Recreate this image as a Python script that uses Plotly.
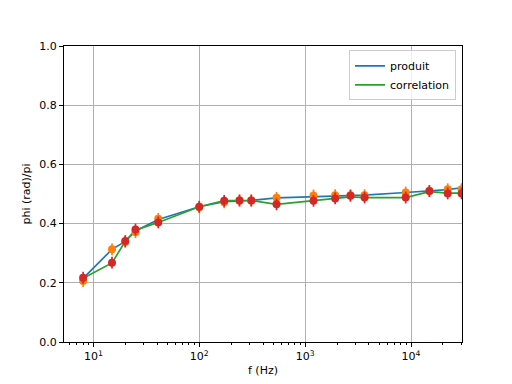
import plotly.graph_objects as go
import math

freq = [8, 15, 20, 25, 41, 100, 172, 240, 310, 537, 1200, 1920, 2680, 3640, 8900, 14900, 22200, 30000]
produit = [0.215, 0.313, 0.340, 0.375, 0.414, 0.457, 0.474, 0.477, 0.478, 0.487, 0.491, 0.493, 0.495, 0.496, 0.505, 0.510, 0.515, 0.521]
correlation = [0.215, 0.267, 0.340, 0.378, 0.404, 0.457, 0.478, 0.478, 0.478, 0.465, 0.477, 0.484, 0.490, 0.488, 0.488, 0.508, 0.503, 0.503]
mes_produit = [0.206, 0.313, 0.338, 0.371, 0.416, 0.455, 0.472, 0.478, 0.478, 0.487, 0.495, 0.496, 0.496, 0.496, 0.505, 0.510, 0.516, 0.516]
mes_correlation = [0.217, 0.268, 0.341, 0.380, 0.404, 0.457, 0.477, 0.478, 0.478, 0.465, 0.477, 0.485, 0.494, 0.488, 0.488, 0.510, 0.502, 0.502]
err_produit = [0.02] * len(freq)
err_correlation = [0.02] * len(freq)
xtick_vals = [10, 100, 1000, 10000]
xtick_text = ["10<sup>1</sup>", "10<sup>2</sup>", "10<sup>3</sup>", "10<sup>4</sup>"]

BLUE, GREEN, ORANGE, RED = "#1f77b4", "#2ca02c", "#ff7f0e", "#d62728"

fig = go.Figure()
fig.add_trace(go.Scatter(x=freq, y=produit, mode="lines", name="produit",
                         line=dict(color=BLUE, width=1.7)))
fig.add_trace(go.Scatter(x=freq, y=correlation, mode="lines", name="correlation",
                         line=dict(color=GREEN, width=1.7)))
fig.add_trace(go.Scatter(x=freq, y=mes_produit, mode="markers", showlegend=False,
                         marker=dict(color=ORANGE, size=8),
                         error_y=dict(type="data", array=err_produit, color=ORANGE, thickness=1.7, width=0)))
fig.add_trace(go.Scatter(x=freq, y=mes_correlation, mode="markers", showlegend=False,
                         marker=dict(color=RED, size=8),
                         error_y=dict(type="data", array=err_correlation, color=RED, thickness=1.7, width=0)))

axis_common = dict(showline=True, linecolor="black", linewidth=1, mirror=True,
                   ticks="outside", ticklen=4, tickcolor="black", automargin=False,
                   showgrid=True, gridcolor="#b0b0b0", gridwidth=0.8, zeroline=False,
                   tickfont=dict(size=11, color="black"))

fig.update_layout(
    width=512, height=384,
    margin=dict(l=64, r=50, t=46, b=42),
    paper_bgcolor="white", plot_bgcolor="white",
    font=dict(family="DejaVu Sans", size=11, color="black"),
    xaxis=dict(type="log", range=[math.log10(5.28), math.log10(30300)],
               tickvals=xtick_vals, ticktext=xtick_text,
               minor=dict(ticks="outside", ticklen=2, tickcolor="black", dtick="D1", showgrid=False),
               title=dict(text="f (Hz)", standoff=4, font=dict(size=11)),
               **axis_common),
    yaxis=dict(range=[0, 1], dtick=0.2, tickformat=".1f",
               title=dict(text="phi (rad)/pi", standoff=6, font=dict(size=11)),
               **axis_common),
    legend=dict(x=0.985, y=0.985, xanchor="right", yanchor="top",
                bgcolor="rgba(255,255,255,0.8)", bordercolor="#cccccc", borderwidth=1,
                font=dict(size=11)),
)

fig.write_html("out.html", config={"displayModeBar": False},
               post_script="document.body.style.margin='0';document.body.style.overflow='hidden';")
